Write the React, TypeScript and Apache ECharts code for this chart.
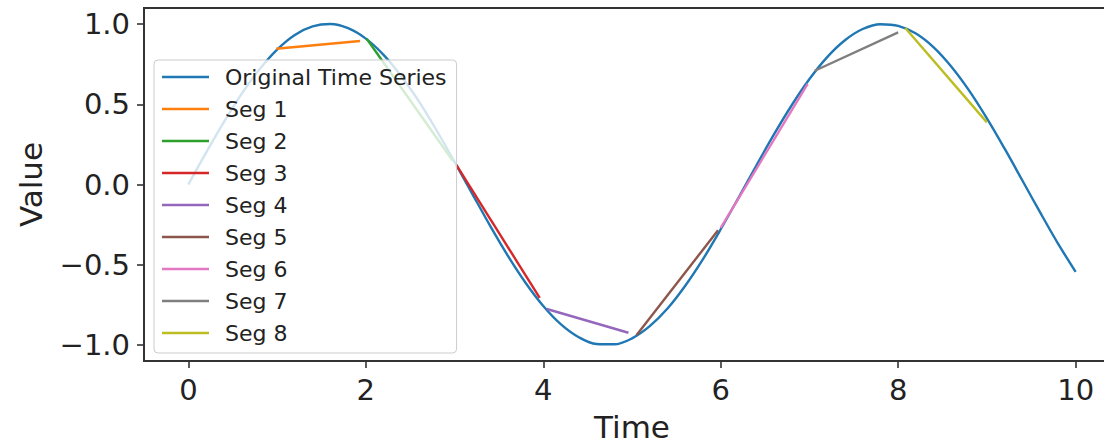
import React, { useEffect, useRef } from "react";
import * as echarts from "echarts";

const timeValues = [
  0, 0.2, 0.4, 0.6, 0.8, 1.0, 1.2, 1.4, 1.6, 1.8, 2.0, 2.2, 2.4, 2.6, 2.8, 3.0, 3.2, 3.4, 3.6, 3.8,
  4.0, 4.2, 4.4, 4.6, 4.8, 5.0, 5.2, 5.4, 5.6, 5.8, 6.0, 6.2, 6.4, 6.6, 6.8, 7.0, 7.2, 7.4, 7.6, 7.8,
  8.0, 8.2, 8.4, 8.6, 8.8, 9.0, 9.2, 9.4, 9.6, 9.8, 10.0,
];
const seriesValues = [
  0.0, 0.199, 0.389, 0.565, 0.717, 0.841, 0.932, 0.985, 1.0, 0.974, 0.909, 0.808, 0.675, 0.516,
  0.335, 0.141, -0.058, -0.256, -0.443, -0.612, -0.757, -0.872, -0.952, -0.994, -0.996, -0.959,
  -0.883, -0.773, -0.631, -0.465, -0.279, -0.083, 0.117, 0.312, 0.494, 0.657, 0.794, 0.899, 0.969,
  0.999, 0.989, 0.941, 0.855, 0.734, 0.585, 0.412, 0.223, 0.025, -0.174, -0.367, -0.544,
];

// Segments: start and end points [time, value]
const segNames = ["Seg 1", "Seg 2", "Seg 3", "Seg 4", "Seg 5", "Seg 6", "Seg 7", "Seg 8"];
const segStarts = [
  [0.99, 0.846],
  [2.01, 0.908],
  [3.02, 0.123],
  [4.04, -0.776],
  [5.05, -0.94],
  [6.0, -0.27],
  [7.06, 0.709],
  [8.08, 0.975],
];
const segEnds = [
  [1.935, 0.894],
  [2.98, 0.148],
  [3.96, -0.707],
  [4.96, -0.924],
  [5.97, -0.285],
  [6.98, 0.627],
  [8.0, 0.948],
  [9.0, 0.387],
];

const xTicks = [0, 2, 4, 6, 8, 10];
const yTicks = [-1, -0.5, 0, 0.5, 1];

const colors = [
  "#1f77b4",
  "#ff7f0e",
  "#2ca02c",
  "#d62728",
  "#9467bd",
  "#8c564b",
  "#e377c2",
  "#7f7f7f",
  "#bcbd22",
];

const FONT = "DejaVu Sans";
const LINE_ICON = "path://M0 0H47V2.5H0Z";

export default function App() {
  const ref = useRef<HTMLDivElement>(null);

  useEffect(() => {
    if (!ref.current) return;
    const chart = echarts.init(ref.current, null, { renderer: "svg" });

    const series: any[] = [
      {
        name: "Original Time Series",
        type: "line",
        data: timeValues.map((t, i) => [t, seriesValues[i]]),
        symbol: "none",
        smooth: 0.35,
        lineStyle: { width: 2.4, color: colors[0] },
        itemStyle: { color: colors[0] },
        z: 2,
      },
      ...segNames.map((name, i) => ({
        name,
        type: "line",
        data: [segStarts[i], segEnds[i]],
        symbol: "none",
        lineStyle: { width: 2.4, color: colors[i + 1] },
        itemStyle: { color: colors[i + 1] },
        z: 3,
      })),
    ];

    chart.setOption({
      animation: false,
      backgroundColor: "#ffffff",
      textStyle: { fontFamily: FONT },
      grid: {
        left: 144,
        top: 8,
        right: 4,
        bottom: 81,
        show: true,
        borderColor: "#333333",
        borderWidth: 2,
        backgroundColor: "transparent",
      },
      xAxis: {
        type: "value",
        min: -0.5,
        max: 10.5,
        name: "Time",
        nameLocation: "middle",
        nameGap: 50,
        nameTextStyle: { fontSize: 31, color: "#222", fontFamily: FONT },
        axisLine: { show: true, onZero: false, lineStyle: { color: "#333", width: 2 } },
        axisTick: {
          show: true,
          length: 7,
          customValues: xTicks,
          lineStyle: { color: "#333", width: 1.6 },
        },
        axisLabel: {
          customValues: xTicks,
          fontSize: 29,
          margin: 14,
          color: "#222",
          fontFamily: FONT,
          formatter: (v: number) => String(v),
        },
        splitLine: { show: false },
      },
      yAxis: {
        type: "value",
        min: -1.1,
        max: 1.1,
        name: "Value",
        nameLocation: "middle",
        nameGap: 98,
        nameTextStyle: { fontSize: 31, color: "#222", fontFamily: FONT },
        axisLine: { show: true, onZero: false, lineStyle: { color: "#333", width: 2 } },
        axisTick: {
          show: true,
          length: 7,
          customValues: yTicks,
          lineStyle: { color: "#333", width: 1.6 },
        },
        axisLabel: {
          customValues: yTicks,
          fontSize: 29,
          margin: 14,
          color: "#222",
          fontFamily: FONT,
          formatter: (v: number) => (v < 0 ? "\u2212" + Math.abs(v).toFixed(1) : v.toFixed(1)),
        },
        splitLine: { show: false },
      },
      legend: {
        orient: "vertical",
        left: 154,
        top: 60,
        z: 10,
        padding: [6, 10, 9, 8],
        itemGap: 10,
        itemWidth: 47,
        itemHeight: 22,
        icon: LINE_ICON,
        backgroundColor: "rgba(255,255,255,0.8)",
        borderColor: "#cccccc",
        borderWidth: 1,
        borderRadius: 4,
        textStyle: {
          fontSize: 22,
          lineHeight: 22,
          color: "#222",
          fontFamily: FONT,
          padding: [0, 0, 0, 11],
        },
        data: ["Original Time Series", ...segNames],
      },
      series,
    });

    return () => chart.dispose();
  }, []);

  return (
    <div
      style={{
        position: "fixed",
        left: 0,
        top: 0,
        width: 1104,
        height: 447,
        overflow: "hidden",
        background: "#ffffff",
      }}
    >
      <div ref={ref} style={{ width: 1124, height: 447 }} />
    </div>
  );
}
